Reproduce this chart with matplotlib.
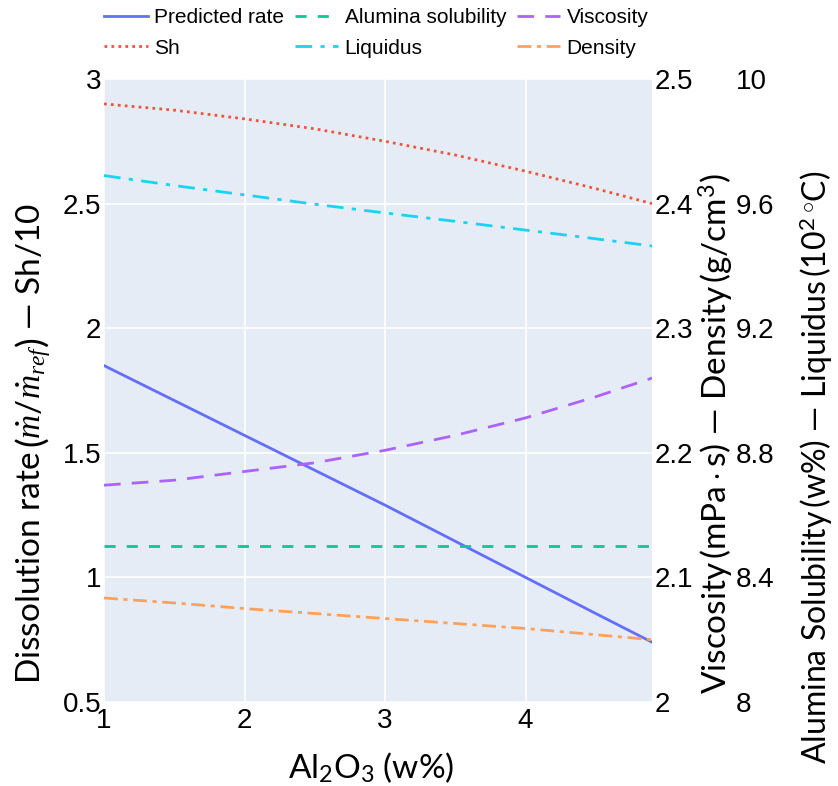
import matplotlib
matplotlib.use("Agg")
import matplotlib.pyplot as plt

# Al2O3 content (w%)
al2o3 = [1.0, 1.5, 2.0, 2.5, 3.0, 3.5, 4.0, 4.5, 4.9]

# left axis: relative dissolution rate and Sherwood number / 10
predicted_rate = [1.85, 1.71, 1.57, 1.43, 1.29, 1.145, 1.00, 0.855, 0.74]
sh_over_10 = [2.90, 2.875, 2.84, 2.80, 2.75, 2.695, 2.63, 2.56, 2.50]

# first right axis: viscosity (mPa s) and density (g/cm3)
viscosity = [2.174, 2.178, 2.185, 2.192, 2.202, 2.214, 2.228, 2.245, 2.26]
density = [2.0835, 2.0795, 2.075, 2.071, 2.067, 2.063, 2.059, 2.054, 2.050]

# second right axis: alumina solubility (w%) and liquidus (10^2 C)
alumina_solubility = [8.50, 8.50, 8.50, 8.50, 8.50, 8.50, 8.50, 8.50, 8.50]
liquidus = [9.69, 9.658, 9.628, 9.598, 9.57, 9.543, 9.515, 9.487, 9.464]

x_ticks = [1, 2, 3, 4]
left_ticks = [0.5, 1, 1.5, 2, 2.5, 3]
right1_ticks = [2, 2.1, 2.2, 2.3, 2.4, 2.5]
right2_ticks = [8, 8.4, 8.8, 9.2, 9.6, 10]

plt.rcParams["font.family"] = ["Liberation Sans", "DejaVu Sans"]
plt.rcParams["mathtext.fontset"] = "custom"
plt.rcParams["mathtext.rm"] = "Lato"
plt.rcParams["mathtext.it"] = "Liberation Serif:italic"
plt.rcParams["mathtext.bf"] = "Lato:bold"
plt.rcParams["mathtext.sf"] = "Lato"

W, H = 838, 786
fig = plt.figure(figsize=(W / 100, H / 100), dpi=100)
L, R, T, B = 104, 652, 79, 702
ax = fig.add_axes([L / W, 1 - B / H, (R - L) / W, (B - T) / H])
ax.set_facecolor("#E5ECF6")

blue, red, green, purple, orange, cyan = "#636EFA", "#EF553B", "#00CC96", "#AB63FA", "#FFA15A", "#19D3F3"
lw = 2

h_rate, = ax.plot(al2o3, predicted_rate, color=blue, lw=lw, label="Predicted rate")
h_sh, = ax.plot(al2o3, sh_over_10, color=red, lw=lw, ls=(0, (1, 1.5)), label="Sh")

ax1 = ax.twinx()
h_visc, = ax1.plot(al2o3, viscosity, color=purple, lw=lw, ls=(0, (6, 4)), label="Viscosity")
h_dens, = ax1.plot(al2o3, density, color=orange, lw=lw, ls=(0, (5, 2, 1.5, 2)), label="Density")

ax2 = ax.twinx()
h_alu, = ax2.plot(al2o3, alumina_solubility, color=green, lw=lw, ls=(0, (4, 4)), label="Alumina solubility")
h_liq, = ax2.plot(al2o3, liquidus, color=cyan, lw=lw, ls=(0, (6, 3, 1.5, 3)), label="Liquidus")
ax2.spines["right"].set_position(("axes", 1 + 81 / (R - L)))

ax.set_xlim(1, 4.9)
ax.set_ylim(0.5, 3)
ax1.set_ylim(2, 2.5)
ax2.set_ylim(8, 10)

ax.set_xticks(x_ticks)
ax.set_xticklabels([f"{v:g}" for v in x_ticks])
ax.set_yticks(left_ticks)
ax.set_yticklabels([f"{v:g}" for v in left_ticks])
ax1.set_yticks(right1_ticks)
ax1.set_yticklabels([f"{v:g}" for v in right1_ticks])
ax2.set_yticks(right2_ticks)
ax2.set_yticklabels([f"{v:g}" for v in right2_ticks])

ax.grid(True, color="white", lw=1.2)
ax.set_axisbelow(True)
for a in (ax, ax1, ax2):
    for s in a.spines.values():
        s.set_visible(False)
    a.tick_params(length=0, labelsize=20, pad=2)
ax.tick_params(axis="x", pad=4)
ax1.tick_params(axis="y", pad=2)
ax2.tick_params(axis="y", pad=2)

title_font = dict(family=["Lato", "DejaVu Sans"], size=24)
ax.set_ylabel(r"Dissolution rate$\,\left(\dot{m}/\dot{m}_{ref}\right)$ — Sh/10", **title_font)
ax.yaxis.set_label_coords(-0.128, 0.415)
ax1.set_ylabel(r"Viscosity$\,(\mathrm{mPa}\cdot\mathrm{s})$ — Density$\,(\mathrm{g/cm}^{3})$", **title_font)
ax1.yaxis.set_label_coords(1.117, 0.43)
ax2.set_ylabel(r"Alumina Solubility$\,(\mathrm{w\%})$ — Liquidus$\,(10^{2}\,{}^{\circ}\mathrm{C})$", size=23,
               family=["Lato", "DejaVu Sans"])
ax2.yaxis.set_label_coords(1.300, 0.377)
ax.set_xlabel(r"Al$_{2}$O$_{3}$ (w%)", **title_font)
ax.xaxis.set_label_coords(0.488, -0.105)
for a in (ax1, ax2):
    a.yaxis.label.set_rotation(90)
    a.yaxis.label.set_va("center")
ax.yaxis.label.set_va("center")
ax.xaxis.label.set_va("center")

handles = [h_rate, h_sh, h_alu, h_liq, h_visc, h_dens]
fig.legend(handles=handles, labels=[h.get_label() for h in handles],
           loc="upper left", bbox_to_anchor=(100 / W, 1 - 4 / H), ncol=3,
           frameon=False, fontsize=15, handlelength=2.1, handletextpad=0.3,
           columnspacing=0.5, labelspacing=0.55, borderaxespad=0, borderpad=0.2)

fig.savefig("out.png", dpi=100)
